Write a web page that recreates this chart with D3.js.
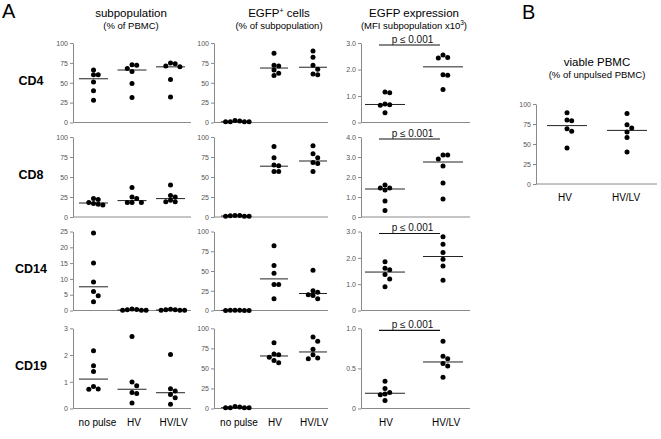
<!DOCTYPE html>
<html><head><meta charset="utf-8">
<script src="https://cdn.jsdelivr.net/npm/d3@7"></script>
<style>body{margin:0;background:#fff} svg{display:block} text{font-family:"Liberation Sans",Arial,sans-serif}</style>
</head><body><svg id="c" width="661" height="439"></svg>
<script>
// ---------- data ----------
const rowNames = ["CD4", "CD8", "CD14", "CD19"];
const groupsA = ["no pulse", "HV", "HV/LV"];
const groupsB = ["HV", "HV/LV"];
const pLabel = "p \u2264 0.001";

// subpopulation (% of PBMC)
const subCD4  = [[66,60,60,51,40,28],[72.5,72,68,64,49,31.5],[75,74,71,70,54,32]];
const subCD8  = [[23,22,18,17,16,15],[37,25,23,18,18,18],[40,27,25,21,19,19]];
const subCD14 = [[24.5,15,9,6,4.7,2.8],[0.5,0.3,0.2,0.1,0.1,0.1],[0.4,0.2,0.2,0.1,0.1,0.1]];
const subCD19 = [[2.16,1.6,1.38,0.82,0.73,0.72],[2.69,0.99,0.85,0.6,0.56,0.21],[2.02,0.74,0.65,0.52,0.4,0.16]];
const subMed  = [[55,66,70],[17.5,20.5,23],[7.5,0.15,0.15],[1.1,0.72,0.59]];
const subTicks = [[0,25,50,75,100],[0,25,50,75,100],[0,5,10,15,20,25],[0,1,2,3]];

// EGFP+ cells (% of subpopulation)
const egCD4  = [[2.5,2,1,1,1,1],[87,72,71,66,62,59],[90,82,72,67,61,60]];
const egCD8  = [[2,2,1.5,1,1,1],[88,74,65,64,57,57],[89,79,74,68,67,57]];
const egCD14 = [[0.3,0.2,0.2,0.1,0.1,0.1],[82,57,47,33,33,15],[51,25,23,20,19,15]];
const egCD19 = [[2.5,2,1,1,1,1],[82,68,67,64,60,57],[89,84,74,67,63,62]];
const egMed  = [[1,68.5,69.5],[1.2,63.5,70],[0.15,40,21.5],[1,65.5,70.5]];
const egTicks = [0,25,50,75,100];

// EGFP expression (MFI x10^3)
const mfiCD4  = [[1.15,1.12,0.7,0.67,0.65,0.37],[2.55,2.45,2.43,1.8,1.78,1.25]];
const mfiCD8  = [[1.6,1.45,1.45,1.35,0.8,0.32],[3.1,3.1,2.9,2.55,1.7,0.9]];
const mfiCD14 = [[1.85,1.6,1.55,1.37,1.2,0.9],[2.8,2.52,2.2,1.95,1.69,1.15]];
const mfiCD19 = [[0.34,0.25,0.2,0.18,0.17,0.1],[0.84,0.65,0.62,0.56,0.53,0.39]];
const mfiMed  = [[0.68,2.1],[1.4,2.75],[1.46,2.05],[0.19,0.58]];
const mfiTicks = [[0,1,2,3],[0,1,2,3,4],[0,1,2,3],[0,0.5,1]];

// viable PBMC (% of unpulsed PBMC)
const viable = [[89,80,79,69,66,45],[88,74,70,65,58,40]];
const viableMed = [73,67];
const viableTicks = [0,25,50,75,100];

// ---------- layout ----------
const svg = d3.select("#c");
const rowTop = [43,137,231.5,328.3], rowBot = [122.5,217,310.5,408.5];
const colX = [[73,191],[214,328],[361,470]];
const AX = "#8a8a8a", TK = "#555";

function beeswarm(ys, cx, d, s) {
  const order = ys.map((y,i)=>i).sort((a,b)=>ys[a]-ys[b]);
  const placed = [], xs = new Array(ys.length);
  for (const i of order) {
    const y = ys[i];
    for (let k=0;k<40;k++) {
      const off = k===0?0:(k%2?1:-1)*Math.ceil(k/2)*s;
      const x = cx+off;
      if (!placed.some(p=>(p.x-x)**2+(p.y-y)**2 < d*d)) { placed.push({x,y}); xs[i]=x; break; }
    }
  }
  return xs;
}

function panel(o) {
  const g = svg.append("g");
  const y = d3.scaleLinear().domain([0, d3.max(o.ticks)]).range([o.y1, o.y0]);
  const x = d3.scalePoint().domain(o.groups).range([o.x0+o.c0, o.x0+o.c1]);
  const ax = g.append("g").attr("transform",`translate(${o.x0},0)`)
    .call(d3.axisLeft(y).tickValues(o.ticks).tickSize(3).tickPadding(2).tickSizeOuter(0).tickFormat(o.fmt||d3.format("d")));
  ax.select(".domain").attr("stroke",AX);
  ax.selectAll(".tick line").attr("stroke",AX);
  ax.selectAll(".tick text").attr("fill",TK).style("font-size","7px").style("font-family","'Liberation Sans',Arial,sans-serif");
  g.append("line").attr("x1",o.x0).attr("x2",o.x1).attr("y1",o.y1).attr("y2",o.y1).attr("stroke",AX).attr("stroke-width",1);
  o.groups.forEach((grp,gi)=>{
    const cx = x(grp);
    const ys = o.values[gi].map(v=>y(v));
    const xs = beeswarm(ys, cx, 4.6, 4.7);
    g.append("line").attr("x1",cx-o.hw).attr("x2",cx+o.hw)
      .attr("y1",y(o.med[gi])).attr("y2",y(o.med[gi])).attr("stroke","#222").attr("stroke-width",1);
    g.selectAll(null).data(ys).join("circle")
      .attr("cx",(d,i)=>xs[i]).attr("cy",d=>d).attr("r",2.5).attr("fill","#000");
  });
  if (o.pval) {
    const bx1 = x(o.groups[0])-6, bx2 = x(o.groups[1])-3, by = o.y0+2;
    g.append("line").attr("x1",bx1).attr("x2",bx2).attr("y1",by).attr("y2",by).attr("stroke","#111").attr("stroke-width",1.2);
    g.append("text").attr("x",(bx1+bx2)/2+3).attr("y",by-2.5).attr("text-anchor","middle")
      .style("font-size","10px").attr("fill","#111").text(pLabel);
  }
  return x;
}

const subData = [subCD4, subCD8, subCD14, subCD19];
const egData = [egCD4, egCD8, egCD14, egCD19];
const mfiData = [mfiCD4, mfiCD8, mfiCD14, mfiCD19];
const fmt1 = v => v===0 ? "0" : d3.format(".1f")(v);

let xs1, xs2, xs3;
rowNames.forEach((rn, r) => {
  xs1 = panel({x0:colX[0][0],x1:colX[0][1],y0:rowTop[r],y1:rowBot[r],groups:groupsA,c0:20.5,c1:97.5,
    values:subData[r],med:subMed[r],ticks:subTicks[r],hw:14.5});
  xs2 = panel({x0:colX[1][0],x1:colX[1][1],y0:rowTop[r],y1:rowBot[r],groups:groupsA,c0:21,c1:99,
    values:egData[r],med:egMed[r],ticks:egTicks,hw:14});
  xs3 = panel({x0:colX[2][0],x1:colX[2][1],y0:rowTop[r],y1:rowBot[r],groups:groupsB,c0:24,c1:82,
    values:mfiData[r],med:mfiMed[r],ticks:mfiTicks[r],hw:20,fmt:fmt1,pval:true});
  svg.append("text").attr("x",31).attr("y",(rowTop[r]+rowBot[r])/2+2).attr("text-anchor","middle")
    .style("font-size","12.5px").style("font-weight","bold").attr("fill","#000").text(rn);
});

const xB = panel({x0:536,x1:657,y0:104,y1:184,groups:groupsB,c0:31,c1:91,
  values:viable,med:viableMed,ticks:viableTicks,hw:20});

// category labels
function catLabels(xsc, groups, yb, shift) {
  groups.forEach((g,i)=>svg.append("text").attr("x",xsc(g)+(shift[i]||0)).attr("y",yb)
    .attr("text-anchor","middle").style("font-size","10px").attr("fill","#000").text(g));
}
catLabels(xs1, groupsA, 425.5, [4,2,3]);
catLabels(xs2, groupsA, 425.5, [4,1,1]);
catLabels(xs3, groupsB, 425.5, [1,3]);
catLabels(xB, groupsB, 200.5, [-2,-1]);

// titles
function title(x, y1, t1, y2, t2) {
  const a = svg.append("text").attr("x",x).attr("y",y1).attr("text-anchor","middle").style("font-size","11.5px").attr("fill","#000");
  if (typeof t1 === "string") a.text(t1); else t1(a);
  svg.append("text").attr("x",x).attr("y",y2).attr("text-anchor","middle").style("font-size","9.5px").attr("fill","#000").text(t2);
}
title(131, 17, "subpopulation", 28.5, "(% of PBMC)");
title(279, 17, a=>{a.append("tspan").text("EGFP");a.append("tspan").attr("dy",-4).style("font-size","7px").text("+");a.append("tspan").attr("dy",4).text(" cells");}, 28.5, "(% of subpopulation)");
{
  svg.append("text").attr("x",414).attr("y",17).attr("text-anchor","middle").style("font-size","11.5px").attr("fill","#000").text("EGFP expression");
  const t = svg.append("text").attr("x",414).attr("y",28.5).attr("text-anchor","middle").style("font-size","9.5px").attr("fill","#000");
  t.append("tspan").text("(MFI subpopulation x10");
  t.append("tspan").attr("dy",-3.5).style("font-size","6.5px").text("3");
  t.append("tspan").attr("dy",3.5).text(")");
}
title(597, 66, "viable PBMC", 78, "(% of unpulsed PBMC)");

svg.append("text").attr("x",2).attr("y",18).style("font-size","20px").attr("fill","#000").text("A");
svg.append("text").attr("x",522).attr("y",18.5).style("font-size","20px").attr("fill","#000").text("B");
</script></body></html>
